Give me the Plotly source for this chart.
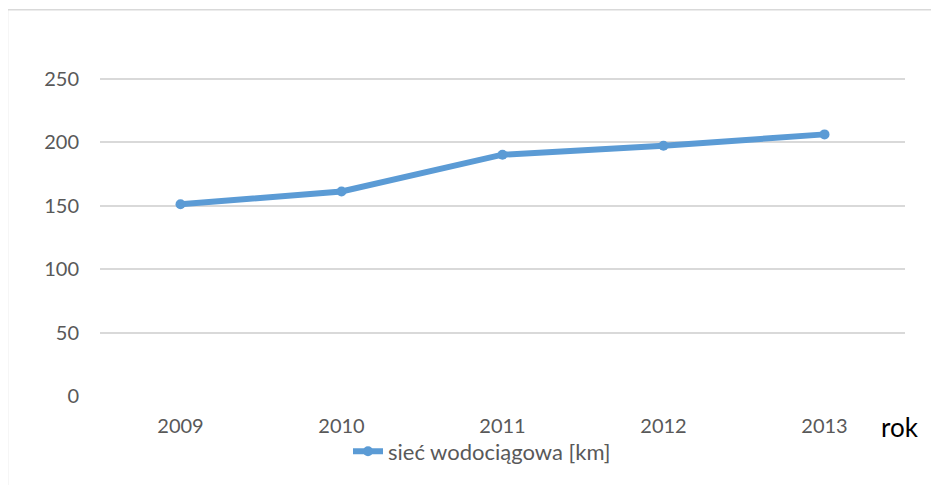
import plotly.graph_objects as go

years = ["2009", "2010", "2011", "2012", "2013"]
values = [151, 161, 190, 197, 206]
y_ticks = [0, 50, 100, 150, 200, 250]
series_name = "sieć wodociągowa [km]"
x_title = "rok"

# page body margin offset (8px) compensation
OFF = 8
W, H = 939, 485
L, R, T, B = 100 - OFF, 34 + OFF, 15.3 - OFF, 89.3 + OFF
pw, ph = W - L - R, H - T - B

def px_x(x):
    return (x - OFF - L) / pw

def px_y(y):
    return (H - B - (y - OFF)) / ph

fig = go.Figure()
fig.add_trace(go.Scatter(
    x=years, y=values, mode="lines+markers", name=series_name,
    line=dict(color="#5B9BD5", width=6),
    marker=dict(color="#5B9BD5", size=10),
))

font = "Lato, 'Liberation Sans', sans-serif"
fig.update_layout(
    width=W, height=H,
    margin=dict(l=L, r=R, t=T, b=B, autoexpand=False),
    paper_bgcolor="white", plot_bgcolor="white",
    font=dict(family=font, size=20, color="#595959"),
    showlegend=True,
    legend=dict(orientation="h", x=px_x(348), xanchor="left",
                y=px_y(451), yanchor="middle",
                font=dict(size=22, color="#595959"),
                bgcolor="rgba(0,0,0,0)"),
    xaxis=dict(type="category", range=[-0.5, 4.5], showgrid=False,
               showline=False, zeroline=False, ticks="",
               ticklabelstandoff=16, tickfont=dict(size=20, color="#595959")),
    yaxis=dict(range=[0, 300], tickvals=y_ticks, showgrid=True,
               gridcolor="#d9d9d9", gridwidth=1.5, zeroline=False,
               showline=False, ticks="", ticklabelstandoff=20,
               tickfont=dict(size=20, color="#595959")),
    shapes=[dict(type="rect", xref="paper", yref="paper",
                 x0=px_x(7.5), x1=px_x(W + 20), y0=px_y(H + 20), y1=px_y(10),
                 line=dict(color="#d9d9d9", width=1.5), layer="below")],
    annotations=[dict(text=x_title, xref="paper", yref="paper",
                      x=px_x(900), y=px_y(427), xanchor="center", yanchor="middle",
                      showarrow=False, font=dict(size=26, color="#000000"))],
)

fig.write_html("out.html")
